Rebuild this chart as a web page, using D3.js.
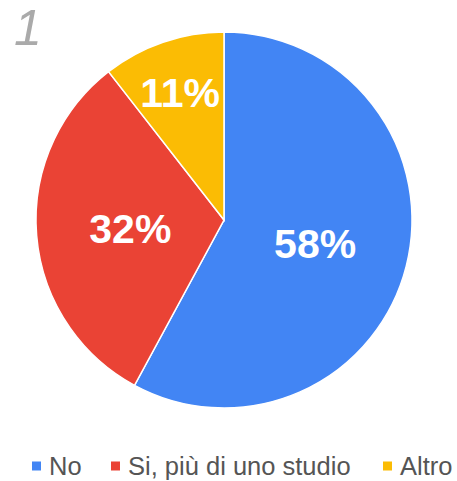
<!DOCTYPE html>
<html>
<head>
<meta charset="utf-8">
<script src="https://cdn.jsdelivr.net/npm/d3@7"></script>
<style>
  body { margin: 0; background: #fff; }
</style>
</head>
<body>
<svg class="chart"></svg>
<script>
// Total dimensions
var w = 457,
    h = 481;

// Data
var categories = ["No", "Si, più di uno studio", "Altro"];
var counts = [11, 6, 2];
var colors = ["#4285f4", "#ea4335", "#fbbc04"];
var title = "1";

var svg = d3.select(".chart")
    .attr("width", w)
    .attr("height", h);

var cx = 224, cy = 220, radius = 188;

var total = d3.sum(counts);
var data = categories.map(function(c, i) {
    return { name: c, value: counts[i], color: colors[i] };
});

var pie = d3.pie()
    .sort(null)
    .value(function(d) { return d.value; });

var arc = d3.arc()
    .innerRadius(0)
    .outerRadius(radius);

var g = svg.append("g")
    .attr("transform", "translate(" + cx + "," + cy + ")");

var arcs = pie(data);

g.selectAll("path")
    .data(arcs)
  .enter().append("path")
    .attr("d", arc)
    .attr("fill", function(d) { return d.data.color; })
    .attr("stroke", "#fff")
    .attr("stroke-width", 1.5);

// Labels: small slices pushed further out
g.selectAll("text.lbl")
    .data(arcs)
  .enter().append("text")
    .attr("class", "lbl")
    .attr("transform", function(d) {
        var frac = (d.endAngle - d.startAngle) / (2 * Math.PI);
        var r = frac < 0.15 ? radius * 0.72 : radius * 0.5;
        var c = d3.arc().innerRadius(r).outerRadius(r).centroid(d);
        return "translate(" + c[0] + "," + c[1] + ")";
    })
    .attr("text-anchor", "middle")
    .attr("dy", "0.36em")
    .attr("font-family", "Arial, 'Liberation Sans', sans-serif")
    .attr("font-weight", "bold")
    .attr("font-size", "41px")
    .attr("fill", "#fff")
    .text(function(d) { return Math.round(d.data.value / total * 100) + "%"; });

// Title
svg.append("text")
    .attr("x", 14)
    .attr("y", 45)
    .attr("font-family", "Arial, 'Liberation Sans', sans-serif")
    .attr("font-style", "italic")
    .attr("font-size", "50px")
    .attr("fill", "#aaaaaa")
    .text(title);

// Legend
var legendX = [32, 111, 383];
var legend = svg.append("g");
var items = legend.selectAll("g")
    .data(data)
  .enter().append("g")
    .attr("transform", function(d, i) { return "translate(" + legendX[i] + ",466)"; });

items.append("rect")
    .attr("x", 0)
    .attr("y", -4.5)
    .attr("width", 9)
    .attr("height", 9)
    .attr("fill", function(d) { return d.color; });

items.append("text")
    .attr("x", 17)
    .attr("dy", "0.36em")
    .attr("font-family", "Arial, 'Liberation Sans', sans-serif")
    .attr("font-size", "25.5px")
    .attr("fill", "#555")
    .text(function(d) { return d.name; });
</script>
</body>
</html>
